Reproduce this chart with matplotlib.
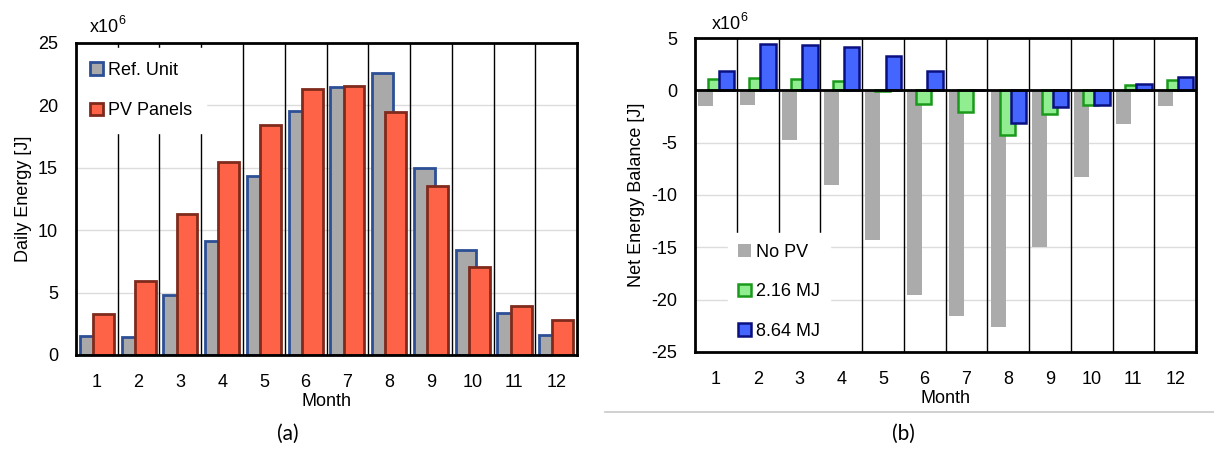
import numpy as np
import matplotlib
matplotlib.use("Agg")
import matplotlib.pyplot as plt

plt.rcParams['font.family'] = ['Liberation Sans', 'DejaVu Sans']
plt.rcParams['axes.unicode_minus'] = False

months = [1, 2, 3, 4, 5, 6, 7, 8, 9, 10, 11, 12]

# daily energy, x10^6 J
ref_unit = [1.5, 1.43, 4.8, 9.1, 14.35, 19.55, 21.5, 22.6, 15.0, 8.4, 3.35, 1.57]
pv_panels = [3.25, 5.95, 11.3, 15.45, 18.4, 21.35, 21.55, 19.5, 13.5, 7.05, 3.9, 2.78]

# net energy balance, x10^6 J
no_pv = [-1.45, -1.4, -4.75, -9.0, -14.3, -19.55, -21.55, -22.6, -15.0, -8.3, -3.25, -1.5]
mj_216 = [1.05, 1.15, 1.05, 0.9, -0.1, -1.3, -2.05, -4.3, -2.25, -1.4, 0.5, 1.0]
mj_864 = [1.8, 4.45, 4.3, 4.15, 3.25, 1.85, 0.05, -3.1, -1.55, -1.4, 0.6, 1.25]

x = np.array(months)
fs = 13

fig = plt.figure(figsize=(12.14, 4.68), dpi=100)
ax1 = fig.add_axes([0.0626, 0.2415, 0.4127, 0.6667])
ax2 = fig.add_axes([0.5725, 0.2479, 0.4127, 0.6709])


def style_axes(ax, ylim, yticks):
    ax.set_xlim(0.5, 12.5)
    ax.set_ylim(*ylim)
    ax.set_yticks(yticks)
    ax.set_xticks(x)
    ax.set_xticklabels([str(m) for m in months])
    ax.tick_params(length=0, labelsize=fs)
    ax.tick_params(axis='y', pad=13)
    ax.tick_params(axis='x', pad=14)
    for s in ax.spines.values():
        s.set_linewidth(2)
        s.set_color('black')
        s.set_zorder(6)
    for yv in yticks[1:-1]:
        ax.axhline(yv, color='#dcdcdc', lw=1, zorder=0)
    for b in np.arange(1.5, 12.5, 1):
        ax.axvline(b, color='black', lw=1, zorder=1)
    ax.set_xlabel('Month', fontsize=fs, labelpad=1)


def multiplier(px, py):
    # "x10" with a raised "6", placed in figure pixels from top-left
    fig.text(px / 1214, 1 - py / 468, 'x10', fontsize=fs, va='baseline')
    fig.text((px + 28) / 1214, 1 - (py - 8) / 468, '6', fontsize=9, va='baseline')


# ---------------- (a) daily energy ----------------
style_axes(ax1, (0, 25), [0, 5, 10, 15, 20, 25])
ax1.bar(x - 0.16, ref_unit, 0.5, color='#a9a9a9', edgecolor='#2c4f96',
        lw=2, zorder=2, label='Ref. Unit')
ax1.bar(x + 0.16, pv_panels, 0.5, color='#ff6347', edgecolor='#7f2a1c',
        lw=2, zorder=3, label='PV Panels')
ax1.set_ylabel('Daily Energy [J]', fontsize=fs, labelpad=4)
leg1 = ax1.legend(loc='upper left', bbox_to_anchor=(0.0, 0.985), borderaxespad=0,
                  fontsize=fs, frameon=True, fancybox=False, framealpha=1,
                  edgecolor='white', handlelength=0.7, handleheight=0.7,
                  handletextpad=0.3, labelspacing=1.3, borderpad=0.78)
leg1.set_zorder(5)
multiplier(90, 32)

# ---------------- (b) net energy balance ----------------
style_axes(ax2, (-25, 5), [-25, -20, -15, -10, -5, 0, 5])
ax2.axhline(0, color='black', lw=2, zorder=4)
ax2.bar(x - 0.24, no_pv, 0.36, color='#ababab', lw=0, zorder=2, label='No PV')
ax2.bar(x - 0.02, mj_216, 0.36, color='#90ee90', edgecolor='#1a9a1a',
        lw=1.8, zorder=2.5, label='2.16 MJ')
ax2.bar(x + 0.25, mj_864, 0.37, color='#4466ff', edgecolor='#0a1080',
        lw=1.8, zorder=3, label='8.64 MJ')
ax2.set_ylabel('Net Energy Balance [J]', fontsize=fs, labelpad=4)
leg2 = ax2.legend(loc='lower left', bbox_to_anchor=(0.065, 0.004), borderaxespad=0,
                  fontsize=fs, frameon=True, fancybox=False, framealpha=1,
                  edgecolor='white', handlelength=0.7, handleheight=0.7,
                  handletextpad=0.25, labelspacing=1.25, borderpad=0.6)
leg2.set_zorder(5)
multiplier(712, 29)

# separator line under panel (b)
fig.add_artist(plt.Line2D([0.498, 1.0], [0.12, 0.12], color='#c8c8c8', lw=1.2))

fig.text(0.237, 0.06, '(a)', fontsize=15, ha='center', family=['Lato', 'DejaVu Sans'])
fig.text(0.744, 0.06, '(b)', fontsize=15, ha='center', family=['Lato', 'DejaVu Sans'])

fig.savefig('out.png', dpi=100)
